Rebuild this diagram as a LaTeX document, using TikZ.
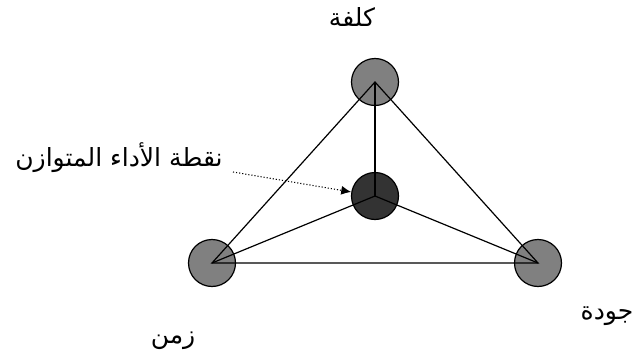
\documentclass[tikz,border=0pt]{standalone}
\usepackage{fontspec}
\newfontfamily\arabicfont[Script=Arabic]{DejaVu Sans}
\TeXXeTstate=1
\usetikzlibrary{arrows.meta}
\definecolor{gray50}{HTML}{808080}
\definecolor{dark20}{HTML}{333333}
\tikzset{
  vert/.style={circle, draw=black, line width=1.2pt, fill=gray50, minimum size=47pt, inner sep=0pt},
  hub/.style={vert, fill=dark20},
  edge/.style={line width=1.2pt, black},
  lbl/.style={font=\arabicfont\fontsize{25}{30}\selectfont, inner sep=0pt}
}
\begin{document}
\begin{tikzpicture}[x=1pt,y=-1pt]
\useasboundingbox (0,0) rectangle (633,356);
\node[vert] (t) at (375,82) {};
\node[vert] (l) at (212,263) {};
\node[vert] (r) at (538,263) {};
\node[hub] (c) at (375,196) {};
\draw[edge] (t.center) -- (l.center) -- (r.center) -- cycle;
\draw[edge] (c.center) -- (t.center);
\draw[edge] (c.center) -- (l.center);
\draw[edge] (c.center) -- (r.center);
\node[lbl] (cost) at (352,17) {\beginR كلفة\endR};
\node[lbl] (bal) at (119,158) {\beginR نقطة الأداء المتوازن\endR};
\node[lbl] (qual) at (607,316) {\beginR جودة\endR};
\node[lbl] (time) at (173,341) {\beginR زمن\endR};
\coordinate (as) at (233,172);
\draw[line width=1.1pt, dotted, -{Latex[length=10pt,width=9pt]}] (as) -- (c);
\end{tikzpicture}
\end{document}
